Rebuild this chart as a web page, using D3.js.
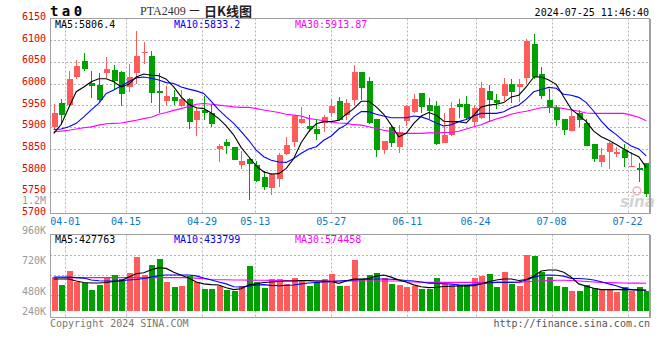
<!DOCTYPE html>
<html><head><meta charset="utf-8">
<script src="https://cdn.jsdelivr.net/npm/d3@7"></script>
<style>body{margin:0;background:#fff}svg{display:block}</style>
</head><body>
<svg id="c" width="660" height="360"></svg>
<script>
const dates = ["03-28","03-29","04-01","04-02","04-03","04-08","04-09","04-10","04-11","04-12",
"04-15","04-16","04-17","04-18","04-19","04-22","04-23","04-24","04-25","04-26",
"04-29","04-30","05-06","05-07","05-08","05-09","05-10","05-13","05-14","05-15",
"05-16","05-17","05-20","05-21","05-22","05-23","05-24","05-27","05-28","05-29",
"05-30","05-31","06-03","06-04","06-05","06-06","06-07","06-11","06-12","06-13",
"06-14","06-17","06-18","06-19","06-20","06-21","06-24","06-25","06-26","06-27",
"06-28","07-01","07-02","07-03","07-04","07-05","07-08","07-09","07-10","07-11",
"07-12","07-15","07-16","07-17","07-18","07-19","07-22","07-23","07-24","07-25"];
const open = [5900,5956,5950,6015,6052,6002,5996,6025,6031,6026,5992,6025,6070,6063,5982,5960,5968,5948,5964,5915,
5938,5933,5849,5865,5853,5812,5825,5812,5785,5758,5780,5838,5864,5909,5902,5896,5910,5932,5959,5928,
5962,6026,6005,5918,5847,5899,5854,5914,5934,5978,5950,5948,5863,5882,5952,5952,5911,5921,5982,5962,
5972,6000,5992,6012,6091,6022,5962,5943,5918,5891,5932,5909,5860,5819,5842,5838,5846,5808,5804,5817];
const close = [5933,5928,6010,6040,6034,5995,5962,6034,6006,5976,6015,6063,6073,5978,5978,5971,5960,5964,5912,5936,
5932,5906,5856,5856,5824,5821,5815,5775,5762,5792,5835,5858,5925,5918,5895,5884,5922,5947,5915,5954,
6026,5990,5909,5847,5867,5863,5887,5948,5964,5946,5936,5861,5881,5943,5946,5920,5943,5990,5962,5955,
5999,5981,6000,6099,6015,5972,5946,5915,5893,5925,5916,5856,5826,5835,5863,5842,5829,5809,5801,5746];
const high = [5952,5964,6028,6054,6070,6028,6025,6061,6042,6028,6045,6121,6096,6075,6025,5994,5985,5985,5967,5946,
5971,5950,5860,5872,5854,5845,5831,5821,5798,5793,5840,5877,5928,5945,5927,5915,5928,5964,5969,5964,
6042,6026,6015,5919,5868,5902,5904,5950,5975,5978,5967,5959,5931,5958,5964,5971,5950,6003,5996,5975,
6013,6011,6011,6102,6114,6038,5988,5950,5919,5942,5938,5918,5860,5852,5865,5854,5861,5841,5817,5817];
const low = [5896,5904,5946,6011,6030,5967,5958,6013,5985,5948,5981,6000,6046,5955,5933,5951,5950,5945,5895,5879,
5915,5900,5819,5837,5823,5803,5731,5773,5755,5743,5761,5834,5854,5906,5888,5870,5888,5922,5913,5915,
5950,5961,5907,5831,5837,5854,5840,5901,5933,5933,5918,5857,5863,5879,5920,5916,5899,5917,5911,5942,
5960,5956,5957,5998,6011,5964,5932,5901,5881,5890,5900,5856,5818,5808,5802,5831,5808,5808,5773,5737];
const ma5 = [5885,5906,5944,5981,5992,6004,6011,6011,6004,5992,5998,6015,6022,6019,6018,6010,5992,5969,5952,5944,
5942,5932,5919,5902,5881,5852,5831,5810,5796,5791,5792,5804,5827,5864,5889,5907,5912,5912,5915,5929,
5942,5959,5959,5946,5929,5904,5877,5885,5908,5925,5933,5927,5913,5912,5912,5909,5927,5946,5950,5952,
5956,5969,5973,5992,6015,6015,6008,5998,5969,5941,5927,5912,5890,5877,5869,5859,5849,5839,5831,5806];
const ma10 = [5894,5895,5900,5908,5923,5939,5954,5977,5985,5995,6004,6013,6015,6012,6008,6002,6000,5992,5987,5983,
5977,5959,5939,5923,5908,5889,5869,5846,5831,5823,5819,5818,5827,5839,5849,5854,5869,5879,5895,5905,
5923,5935,5935,5929,5925,5921,5921,5921,5925,5923,5917,5909,5902,5905,5912,5917,5925,5931,5931,5931,
5935,5944,5950,5964,5981,5986,5991,5989,5975,5973,5968,5956,5936,5913,5895,5882,5867,5856,5849,5833];
const ma30 = [5889,5890,5892,5895,5898,5900,5904,5907,5908,5909,5912,5915,5919,5922,5929,5933,5938,5942,5947,5952,
5954,5952,5950,5948,5946,5945,5945,5942,5939,5936,5933,5929,5927,5925,5919,5917,5914,5911,5909,5908,
5905,5904,5900,5896,5892,5889,5885,5885,5885,5885,5886,5886,5887,5887,5890,5895,5900,5905,5912,5918,
5923,5929,5933,5936,5940,5944,5945,5945,5942,5939,5936,5932,5931,5931,5931,5931,5931,5927,5922,5914];
// volume in thousands
const volumeK = [709,537,833,606,585,441,537,696,744,661,792,1116,744,950,1074,606,496,516,730,606,
455,455,516,434,420,516,930,606,475,661,661,558,682,640,516,599,661,764,516,516,
1054,640,744,785,682,558,537,496,516,455,455,682,558,537,537,537,682,723,764,496,
806,558,516,1157,1136,806,703,516,496,413,413,537,475,434,434,392,496,413,496,413];
const volMa5 = [661,661,661,620,590,578,578,590,610,625,700,770,790,850,895,880,800,740,680,600,
560,545,537,480,441,460,540,560,590,599,610,620,620,630,630,620,620,610,571,620,
661,661,670,720,744,700,640,600,540,500,482,490,505,510,515,520,523,560,606,640,
661,661,630,650,720,826,847,847,800,700,560,510,470,441,441,441,441,441,435,428];
const volMa10 = [702,702,700,690,680,640,625,620,620,625,640,650,670,700,730,744,744,744,744,725,
680,640,600,560,500,496,510,537,545,530,523,530,537,560,580,590,600,606,620,630,
640,650,655,661,661,655,645,630,620,600,575,571,565,555,540,537,545,565,580,592,
592,592,600,640,700,735,744,740,720,675,670,660,640,606,560,520,468,441,435,434];
const volMa30 = [689,689,689,689,689,689,689,689,689,689,689,689,689,689,689,689,689,689,689,680,
665,650,647,645,640,640,638,636,634,632,630,628,625,622,620,620,620,620,620,620,
620,620,620,620,620,620,620,605,600,595,592,592,592,592,592,592,592,592,592,592,
592,592,592,605,615,620,628,634,634,630,620,610,600,592,588,582,578,576,575,574];
const priceTicks = [5700,5750,5800,5850,5900,5950,6000,6050,6100,6150];
const volTicksK = [240,480,720,960];
const volTickLabels = ["240K","480K","720K","960K"];
const dateTicks = ["04-01","04-15","04-29","05-13","05-27","06-11","06-24","07-08","07-22"];
const priceLegend = ["MA5:5806.4","MA10:5833.2","MA30:5913.87"];
const volLegend = ["MA5:427763","MA10:433799","MA30:574458"];
const legendColors = ["#000000","#0000ff","#ff00ff"];

const svg = d3.select("#c");
const MONO = "'DejaVu Sans Mono', 'Liberation Mono', monospace";
const UP = "#ff5b5b", DOWN = "#00a000";
const L = 50, R = 650;
const PT = 18.5, PB = 213.5, VT = 234.5, VB = 317.5;

const n = dates.length;
const x = d3.scaleBand().domain(d3.range(n)).range([L, R]).paddingInner(0.2).paddingOuter(0.1);
const xc = i => x(i) + x.bandwidth() / 2;
const xGrid = d3.scaleLinear().domain([0, n]).range([L, 658]);
const y = d3.scaleLinear().domain([5700, 6150]).range([PB, PT]);
const yv = d3.scaleLinear().domain([0, 1000]).range([311, 262.6]);
const yvLab = d3.scaleLinear().domain([0, 960]).range([351.7, 230.3]);
const volGrid = d3.scaleLinear().domain([0, 4]).range([235.3, 315.3]);
const px = v => Math.round(v) + 0.5;

// header
svg.append("text").attr("x", 50).attr("y", 15.5).attr("font-family", MONO).attr("font-weight", "bold")
  .attr("font-size", 14).attr("letter-spacing", 3.4).attr("fill", "#000").text("ta0");
const title = svg.append("text").attr("x", 140).attr("y", 14.5).attr("fill", "#222");
title.append("tspan").attr("font-family", "'Liberation Serif', serif").attr("font-size", 12).attr("fill", "#333").text("PTA2409");
title.append("tspan").attr("x", 188).attr("font-family", "'Noto Sans CJK SC', sans-serif").attr("font-size", 13).text("－");
title.append("tspan").attr("x", 204).attr("y", 15.5).attr("font-family", "'Noto Sans CJK SC', sans-serif").attr("font-size", 13).attr("font-weight", "bold").text("日K线图");
svg.append("text").attr("x", 649).attr("y", 16).attr("text-anchor", "end").attr("font-family", MONO)
  .attr("font-size", 10).attr("fill", "#000").text("2024-07-25 11:46:40");

// grid: price horizontal
const grid = svg.append("g").attr("stroke", "#b4b4b4").attr("stroke-dasharray", "2,2").attr("fill", "none");
priceTicks.filter(t => t > 5700 && t < 6150).forEach(t => {
  grid.append("line").attr("x1", L).attr("x2", R).attr("y1", px(y(t)) - 0).attr("y2", px(y(t)));
});
// volume horizontal
[1, 2, 3].forEach(k => grid.append("line").attr("x1", L).attr("x2", R).attr("y1", px(volGrid(k))).attr("y2", px(volGrid(k))));
// verticals
dateTicks.forEach(d => {
  const gx = px(xGrid(dates.indexOf(d)));
  grid.append("line").attr("x1", gx).attr("x2", gx).attr("y1", PT).attr("y2", PB);
  grid.append("line").attr("x1", gx).attr("x2", gx).attr("y1", VT).attr("y2", VB);
});

// watermark
const wm = svg.append("g");
wm.append("circle").attr("cx", 637).attr("cy", 191).attr("r", 4).attr("fill", "none").attr("stroke", "#f3b0b0").attr("stroke-width", 1.5);
wm.append("text").attr("x", 620).attr("y", 207).attr("font-family", "'DejaVu Sans', sans-serif").attr("font-weight", "bold")
  .attr("font-style", "italic").attr("font-size", 15).attr("fill", "#d4d4d4").text("sina");

// candles
const cg = svg.append("g");
d3.range(n).forEach(i => {
  const col = close[i] >= open[i] ? UP : DOWN;
  const cx = Math.round(x(i)) + 3.5;
  cg.append("line").attr("x1", cx).attr("x2", cx).attr("y1", y(high[i])).attr("y2", y(low[i]))
    .attr("stroke", col).attr("stroke-width", 1).attr("shape-rendering", "crispEdges");
  const top = y(Math.max(open[i], close[i])), bot = y(Math.min(open[i], close[i]));
  cg.append("rect").attr("x", Math.round(x(i)) + 0.5).attr("width", x.bandwidth())
    .attr("y", top).attr("height", Math.max(1, bot - top)).attr("fill", col).attr("shape-rendering", "crispEdges");
});

// price MA lines
const lineP = d3.line().x((d, i) => xc(i)).y(d => y(d));
[[ma30, "#ff00ff"], [ma10, "#0000ff"], [ma5, "#000000"]].forEach(([arr, c]) => {
  svg.append("path").attr("d", lineP(arr)).attr("fill", "none").attr("stroke", c).attr("stroke-width", 1.1);
});

// volume bars
const vg = svg.append("g");
d3.range(n).forEach(i => {
  const col = close[i] >= open[i] ? UP : DOWN;
  vg.append("rect").attr("x", Math.round(x(i)) + 0.5).attr("width", x.bandwidth())
    .attr("y", yv(volumeK[i])).attr("height", yv(0) - yv(volumeK[i])).attr("fill", col).attr("shape-rendering", "crispEdges");
});
const lineV = d3.line().x((d, i) => xc(i)).y(d => yv(d));
[[volMa30, "#ff00ff"], [volMa10, "#0000ff"], [volMa5, "#000000"]].forEach(([arr, c]) => {
  svg.append("path").attr("d", lineV(arr)).attr("fill", "none").attr("stroke", c).attr("stroke-width", 1.1);
});

// borders
const bd = svg.append("g").attr("stroke", "#a0a0a0").attr("fill", "none").attr("shape-rendering", "crispEdges");
bd.append("rect").attr("x", L + 0.5).attr("y", PT).attr("width", R - L - 1).attr("height", PB - PT);
bd.append("rect").attr("x", L + 0.5).attr("y", VT).attr("width", R - L - 1).attr("height", VB - VT);
bd.append("line").attr("x1", R).attr("x2", R).attr("y1", PT).attr("y2", PB);
bd.append("line").attr("x1", R).attr("x2", R).attr("y1", VT).attr("y2", VB);

// price axis labels
svg.append("g").selectAll("text").data(priceTicks).join("text")
  .attr("x", 46).attr("y", d => y(d) + 1.5).attr("text-anchor", "end")
  .attr("font-family", MONO).attr("font-size", 10).attr("fill", "#e00000").text(d => d);
svg.append("text").attr("x", 46).attr("y", 203.5).attr("text-anchor", "end")
  .attr("font-family", MONO).attr("font-size", 10).attr("fill", "#9a9a9a").text("1.2M");

// volume axis labels
svg.append("g").selectAll("text").data(volTicksK).join("text")
  .attr("x", 46).attr("y", d => Math.min(yvLab(d), 311) + 3.5).attr("text-anchor", "end")
  .attr("font-family", MONO).attr("font-size", 10).attr("fill", "#9a9a9a")
  .text((d, i) => volTickLabels[i]);

// date labels
svg.append("g").selectAll("text").data(dateTicks).join("text")
  .attr("x", d => xGrid(dates.indexOf(d))).attr("y", 225).attr("text-anchor", "middle")
  .attr("font-family", MONO).attr("font-size", 10).attr("fill", "#0a78c8").text(d => d);

// legends
const legX = [55, 174, 295];
priceLegend.forEach((t, i) => svg.append("text").attr("x", legX[i]).attr("y", 27.5)
  .attr("font-family", MONO).attr("font-size", 10).attr("fill", legendColors[i]).text(t));
volLegend.forEach((t, i) => svg.append("text").attr("x", legX[i]).attr("y", 242.5)
  .attr("font-family", MONO).attr("font-size", 10).attr("fill", legendColors[i]).text(t));

// footer
svg.append("text").attr("x", 50).attr("y", 327).attr("font-family", MONO).attr("font-size", 10)
  .attr("fill", "#777").text("Copyright 2024 SINA.COM");
svg.append("text").attr("x", 650).attr("y", 327).attr("text-anchor", "end").attr("font-family", MONO).attr("font-size", 10)
  .attr("fill", "#555").text("http://finance.sina.com.cn");
</script>
</body></html>
